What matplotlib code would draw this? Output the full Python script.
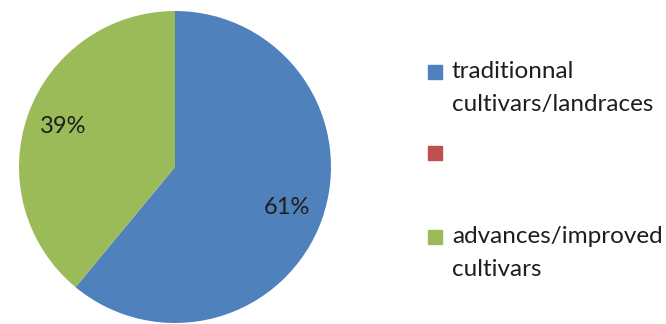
import matplotlib
matplotlib.use("Agg")
import matplotlib.pyplot as plt
from matplotlib.patches import Rectangle

categories = ["traditionnal\ncultivars/landraces", "", "advances/improved\ncultivars"]
values = [61, 0, 39]
colors = ["#4F81BD", "#C0504D", "#9BBB59"]

plt.rcParams['font.family'] = ['Lato', 'DejaVu Sans']

fig = plt.figure(figsize=(6.66, 3.24), dpi=100)
W, H = 666, 324

# pie centred at (175, 167) px from top-left, radius 156 px
cx, cy, r = 175, 167, 156
ax = fig.add_axes([(cx - r) / W, (H - cy - r) / H, 2 * r / W, 2 * r / H])


def pct(p):
    return "" if p < 0.5 else "%d%%" % round(p)


wedges, texts, autotexts = ax.pie(values, colors=colors, startangle=90,
                                  counterclock=False, autopct=pct,
                                  pctdistance=0.76,
                                  textprops={'fontsize': 17, 'color': '#1e1e1e'})
ax.set_xlim(-1, 1)
ax.set_ylim(-1, 1)
ax.set_aspect('equal')
ax.axis('off')

# legend drawn by hand so each swatch sits beside the first line of its label
sq_y = [72, 153, 237]
txt_top = [61, 142, 226]
for lab, col, y, t in zip(categories, colors, sq_y, txt_top):
    fig.patches.append(Rectangle((428 / W, (H - y - 7) / H), 14 / W, 14 / H,
                                 transform=fig.transFigure, color=col))
    fig.text(452 / W, (H - t) / H, lab, fontsize=17.5, color='#1e1e1e',
             va='top', ha='left', linespacing=1.7)

fig.savefig("out.png", dpi=100)
